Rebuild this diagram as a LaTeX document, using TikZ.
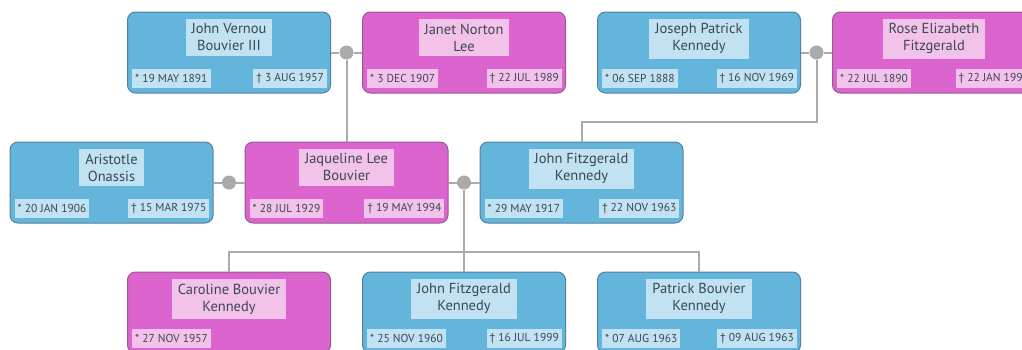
\documentclass[tikz,border=0pt]{standalone}
\usepackage{fontspec}
\setmainfont{PT Sans}
\usetikzlibrary{calc}

\definecolor{maleFill}{RGB}{100,181,220}
\definecolor{maleLine}{RGB}{84,128,160}
\definecolor{maleTag}{RGB}{192,226,242}
\definecolor{femaleFill}{RGB}{220,100,206}
\definecolor{femaleLine}{RGB}{150,90,140}
\definecolor{femaleTag}{RGB}{242,194,234}
\definecolor{inkText}{RGB}{60,70,82}
\definecolor{linkGray}{RGB}{170,170,170}

\tikzset{
  person/.style={draw, rounded corners=8pt, line width=1pt, minimum width=203pt, minimum height=81pt, inner sep=0pt},
  male/.style={person, fill=maleFill, draw=maleLine},
  female/.style={person, fill=femaleFill, draw=femaleLine},
  tag/.style={text=inkText, inner sep=0pt},
  nametag/.style={tag, font=\fontsize{14.5}{17}\selectfont, align=center, inner xsep=6pt, inner ysep=5pt},
  datetag/.style={tag, font=\fontsize{11.5}{12}\selectfont, minimum height=19pt, inner xsep=3pt},
  link/.style={draw=linkGray, line width=2pt},
  wed/.style={circle, fill=linkGray, minimum size=14pt, inner sep=0pt},
}

% \person{id}{x,y}{male|female}{name}{born}{died}
\newcommand{\person}[6]{%
  \node[#3] (#1) at (#2) {};
  \node[nametag, fill=#3Tag, anchor=north, yshift=-7pt] (#1-name) at (#1.north) {#4};
  \node[datetag, fill=#3Tag, anchor=south west, xshift=5pt, yshift=5pt] (#1-born) at (#1.south west) {* #5};
  \if\relax\detokenize{#6}\relax\else
  \node[datetag, fill=#3Tag, anchor=south east, xshift=-4pt, yshift=5pt] (#1-died) at (#1.south east) {† #6};
  \fi}

\begin{document}
\begin{tikzpicture}[x=1pt, y=-1pt]
  \clip (0,0) rectangle (1022,349);
  % parents
  \person{jvb}{229,52.5}{male}{John Vernou\\Bouvier III}{19 MAY 1891}{3 AUG 1957}
  \person{janet}{464,52.5}{female}{Janet Norton\\Lee}{3 DEC 1907}{22 JUL 1989}
  \person{joseph}{699,52.5}{male}{Joseph Patrick\\Kennedy}{06 SEP 1888}{16 NOV 1969}
  \person{rose}{934,52.5}{female}{Rose Elizabeth\\Fitzgerald}{22 JUL 1890}{22 JAN 1995}
  % couple
  \person{ari}{111.5,182.5}{male}{Aristotle\\Onassis}{20 JAN 1906}{15 MAR 1975}
  \person{jaq}{346.5,182.5}{female}{Jaqueline Lee\\Bouvier}{28 JUL 1929}{19 MAY 1994}
  \person{jfk}{581.5,182.5}{male}{John Fitzgerald\\Kennedy}{29 MAY 1917}{22 NOV 1963}
  % children
  \person{caroline}{229,312.5}{female}{Caroline Bouvier\\Kennedy}{27 NOV 1957}{}
  \person{jfkjr}{464,312.5}{male}{John Fitzgerald\\Kennedy}{25 NOV 1960}{16 JUL 1999}
  \person{patrick}{699,312.5}{male}{Patrick Bouvier\\Kennedy}{07 AUG 1963}{09 AUG 1963}

  % marriages
  \node[wed] (m1) at ($(jvb.east)!.5!(janet.west)$) {};
  \node[wed] (m2) at ($(joseph.east)!.5!(rose.west)$) {};
  \node[wed] (m3) at ($(ari.east)!.5!(jaq.west)$) {};
  \node[wed] (m4) at ($(jaq.east)!.5!(jfk.west)$) {};
  \coordinate (bend) at (m2 |- 0,122);
  \coordinate (kids) at (m4 |- 0,252);

  \draw[link] (jvb) -- (m1) -- (janet);
  \draw[link] (joseph) -- (m2) -- (rose);
  \draw[link] (ari) -- (m3) -- (jaq);
  \draw[link] (jaq) -- (m4) -- (jfk);
  \draw[link] (m1) -- (jaq);
  \draw[link] (m2) -- (bend) -| (jfk);
  \draw[link] (m4) -- (kids);
  \draw[link] (kids) -| (caroline);
  \draw[link] (kids) -| (jfkjr);
  \draw[link] (kids) -| (patrick);
\end{tikzpicture}
\end{document}
